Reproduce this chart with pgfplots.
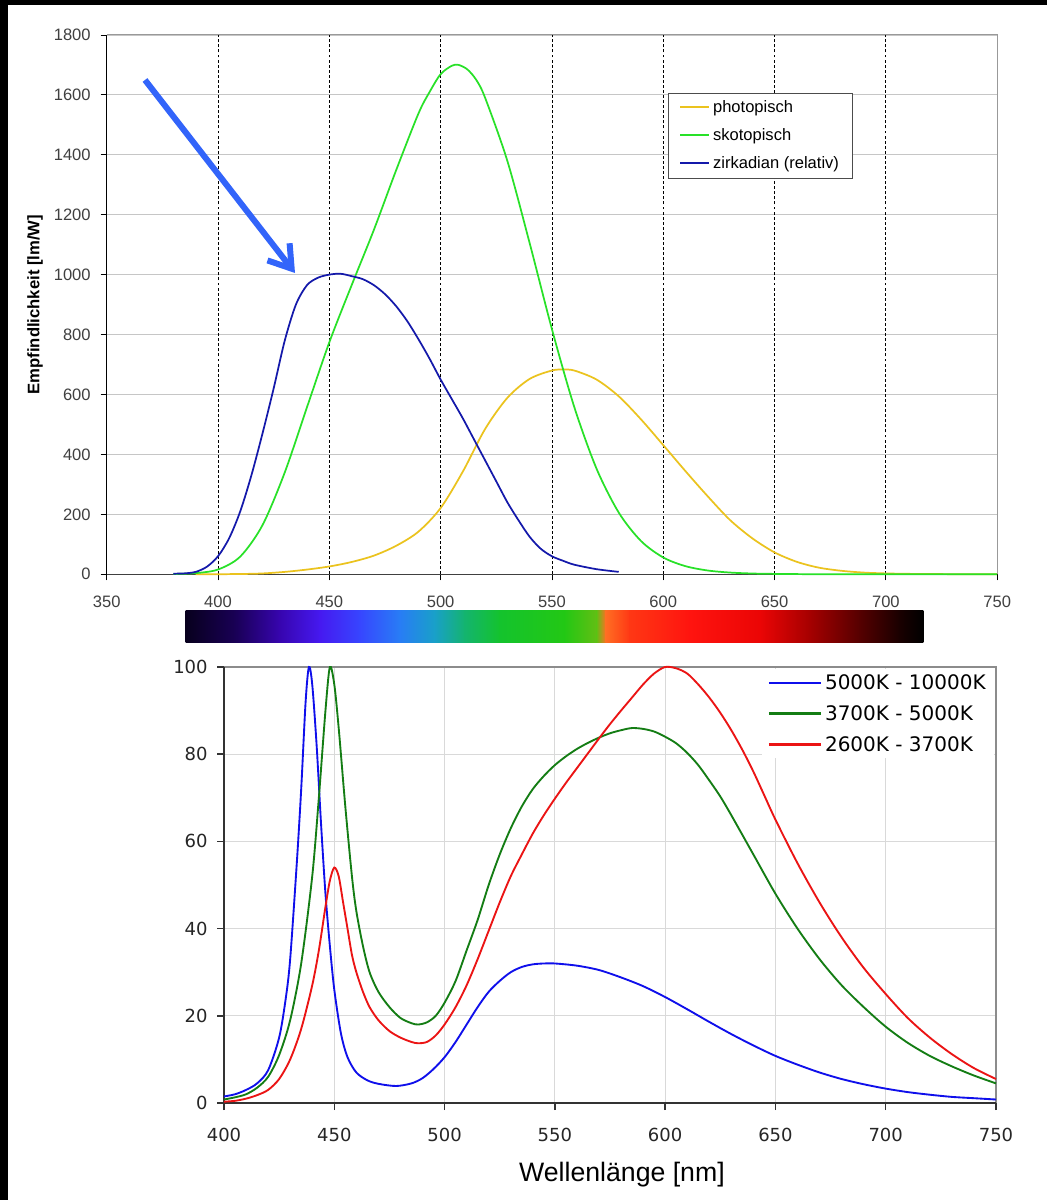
\documentclass[border=0pt]{standalone}
\usepackage{fontspec}
\setmainfont{Liberation Sans}
\newfontfamily\verdana{DejaVu Sans}
\usepackage{pgfplots}
\pgfplotsset{compat=1.18}
\usetikzlibrary{arrows.meta}

\definecolor{photo}{RGB}{235,195,30}
\definecolor{skoto}{RGB}{40,225,40}
\definecolor{zirk}{RGB}{20,25,170}
\definecolor{arrowblue}{RGB}{50,100,250}
\definecolor{ledblue}{RGB}{15,15,235}
\definecolor{ledgreen}{RGB}{20,125,20}
\definecolor{ledred}{RGB}{235,20,20}

% spectrum bar colours
\definecolor{s1}{RGB}{8,0,30}
\definecolor{s2}{RGB}{25,0,85}
\definecolor{s3}{RGB}{55,5,175}
\definecolor{s4}{RGB}{70,25,240}
\definecolor{s5}{RGB}{55,70,255}
\definecolor{s6}{RGB}{40,125,245}
\definecolor{s7}{RGB}{25,160,200}
\definecolor{s8}{RGB}{20,180,110}
\definecolor{s9}{RGB}{20,195,45}
\definecolor{s10}{RGB}{35,200,20}
\definecolor{s11}{RGB}{100,190,20}
\definecolor{s12}{RGB}{255,110,35}
\definecolor{s13}{RGB}{255,55,20}
\definecolor{s14}{RGB}{255,20,15}
\definecolor{s15}{RGB}{235,5,5}
\definecolor{s16}{RGB}{165,0,0}
\definecolor{s17}{RGB}{85,0,0}
\definecolor{s18}{RGB}{25,0,0}
\definecolor{s19}{RGB}{0,0,0}
\newcommand\seg[4]{\shade[left color=#3, right color=#4] (#1*0.75pt-0.2pt,417.75pt) rectangle (#2*0.75pt+0.2pt,441.75pt);}

\begin{document}
\begin{tikzpicture}
\path[use as bounding box] (0,0) rectangle (785.25pt,900pt);
\fill[black] (0,0) rectangle (785.25pt,900pt);
\fill[white] (6pt,0) rectangle (785.25pt,896.25pt);

% ---------- top: sensitivity curves ----------
\begin{axis}[
  at={(80pt,469.3pt)}, anchor=south west,
  scale only axis, width=667.9pt, height=404.5pt,
  xmin=350, xmax=750, ymin=0, ymax=1800,
  xtick={350,400,...,750}, ytick={0,200,...,1800},
  clip=false,
  axis line style={draw=none},
  xtick pos=left, ytick pos=left,
  tick align=outside, major tick length=4.5pt,
  tick style={black, line width=0.6pt},
  ymajorgrids, grid style={gray!45, line width=0.6pt},
  tick label style={font=\fontsize{12.4}{14}\selectfont, text=black!75,
    /pgf/number format/assume math mode=true, /pgf/number format/1000 sep={}},
  yticklabel style={xshift=-4pt},
  xticklabel style={yshift=-8pt},
  ylabel={Empfindlichkeit [lm/W]},
  ylabel style={font=\bfseries\fontsize{12.5}{14}\selectfont,
    at={(axis description cs:-0.0805,0.5)}, anchor=center},
  legend style={at={(rel axis cs:0.630,0.8925)}, anchor=north west,
    draw=black!70, line width=0.6pt, fill=white,
    font=\fontsize{12.4}{14}\selectfont, row sep=6.6pt, inner xsep=8.25pt, inner ysep=3.5pt},
  legend cell align=left,
  legend image code/.code={\draw[#1, line width=1.5pt] (0pt,0.5pt) -- (22pt,0.5pt);},
]
\draw[black, dash pattern=on 2.2pt off 1.6pt, line width=0.6pt] (axis cs:400,0) -- (axis cs:400,1800);
\draw[black, dash pattern=on 2.2pt off 1.6pt, line width=0.6pt] (axis cs:450,0) -- (axis cs:450,1800);
\draw[black, dash pattern=on 2.2pt off 1.6pt, line width=0.6pt] (axis cs:500,0) -- (axis cs:500,1800);
\draw[black, dash pattern=on 2.2pt off 1.6pt, line width=0.6pt] (axis cs:550,0) -- (axis cs:550,1800);
\draw[black, dash pattern=on 2.2pt off 1.6pt, line width=0.6pt] (axis cs:600,0) -- (axis cs:600,1800);
\draw[black, dash pattern=on 2.2pt off 1.6pt, line width=0.6pt] (axis cs:650,0) -- (axis cs:650,1800);
\draw[black, dash pattern=on 2.2pt off 1.6pt, line width=0.6pt] (axis cs:700,0) -- (axis cs:700,1800);
\draw[gray!80, line width=0.8pt] (rel axis cs:0,1) -- (rel axis cs:1,1) -- (rel axis cs:1,0);
\draw[black!75, line width=1.1pt] (rel axis cs:0,0) -- (rel axis cs:1,0);
\draw[black, line width=0.7pt] (rel axis cs:0,0) -- (rel axis cs:0,1);

\addplot[photo, line width=1.3pt, smooth] coordinates {
 (390,0.08)(400,0.27)(410,0.83)(420,2.7)(430,7.9)(440,15.7)(450,26)(460,40.9)
 (470,62.1)(480,94.9)(490,142)(500,221)(510,343)(520,485)(530,589)(540,652)
 (550,680)(555,683)(560,680)(570,650)(580,594)(590,517)(600,431)(610,344)
 (620,260)(630,181)(640,120)(650,73)(660,41.5)(670,21.9)(680,11.6)(690,5.6)
 (700,2.8)(710,1.4)(720,0.7)(730,0.36)(740,0.17)(750,0.08)};
\addlegendentry{photopisch}
\addplot[skoto, line width=1.3pt, smooth] coordinates {
 (380,1)(390,3.8)(400,15.8)(410,59)(420,164)(430,340)(440,558)(450,774)
 (460,964)(470,1149)(480,1348)(490,1537)(495,1609)(500,1669)(505,1697)(508,1700)
 (512,1685)(516,1650)(520,1590)(530,1379)(540,1105)(550,818)(560,559)(570,353)(580,206)
 (590,111)(600,56)(610,27)(620,12.5)(630,5.7)(640,2.5)(650,1.2)(660,0.5)
 (680,0.1)(700,0)(750,0)};
\addlegendentry{skotopisch}
\addplot[zirk, line width=1.3pt, smooth] coordinates {
 (380,2)(385,3)(390,8)(395,25)(400,60)(405,120)(410,210)(415,330)(420,470)
 (425,620)(430,780)(435,900)(440,965)(445,990)(450,1000)(455,1003)(460,995)
 (465,985)(470,965)(475,935)(480,895)(485,845)(490,785)(495,720)(500,650)
 (505,585)(510,520)(515,450)(520,380)(525,310)(530,240)(535,180)(540,125)
 (545,85)(550,60)(555,45)(560,32)(570,17)(580,8)};
\addlegendentry{zirkadian (relativ)}
\end{axis}

% arrow
\draw[arrowblue, line width=4.5pt, -{Straight Barb[length=16pt, width=21pt]}]
  (108.75pt,840pt) -- (221.25pt,695.25pt);

% spectrum bar
\seg{186}{235}{s1}{s2}
\seg{235}{280}{s2}{s3}
\seg{280}{320}{s3}{s4}
\seg{320}{360}{s4}{s5}
\seg{360}{400}{s5}{s6}
\seg{400}{435}{s6}{s7}
\seg{435}{465}{s7}{s8}
\seg{465}{500}{s8}{s9}
\seg{500}{565}{s9}{s10}
\seg{565}{597}{s10}{s11}
\seg{597}{606}{s11}{s12}
\seg{606}{630}{s12}{s13}
\seg{630}{690}{s13}{s14}
\seg{690}{760}{s14}{s15}
\seg{760}{810}{s15}{s16}
\seg{810}{860}{s16}{s17}
\seg{860}{900}{s17}{s18}
\seg{900}{923}{s18}{s19}

% ---------- bottom: LED spectra ----------
\begin{axis}[
  at={(168pt,72.75pt)}, anchor=south west,
  scale only axis, width=579pt, height=327pt,
  xmin=400, xmax=750, ymin=0, ymax=100,
  xtick={400,450,...,750}, ytick={0,20,...,100},
  clip=false,
  axis line style={draw=none},
  xtick pos=left, ytick pos=left,
  tick align=outside, major tick length=5.25pt,
  tick style={black!80, line width=1.1pt},
  grid=major, grid style={gray!30, line width=0.8pt},
  tick label style={font=\verdana\fontsize{13.5}{16}\selectfont, text=black!85,
    /pgf/number format/assume math mode=true},
  yticklabel style={xshift=-3.5pt},
  xticklabel style={yshift=-10pt},
  xlabel={Wellenlänge [nm]},
  xlabel style={font=\fontsize{20}{24}\selectfont,
    at={(axis description cs:0.5155,-0.165)}, anchor=center},
  legend style={at={(rel axis cs:1,1)}, xshift=-1.5pt, yshift=-1.5pt, anchor=north east,
    draw=none, fill=white, font=\verdana\fontsize{15}{18}\selectfont,
    row sep=6.5pt, inner xsep=4pt, inner ysep=2pt},
  legend cell align=left,
  legend image code/.code={\draw[#1, line width=2.2pt] (0pt,0pt) -- (39pt,0pt);},
]
\draw[gray!90, line width=1.6pt] (rel axis cs:0,1) -- (rel axis cs:1,1) -- (rel axis cs:1,0);
\draw[black!80, line width=1.5pt] (rel axis cs:0,1) -- (rel axis cs:0,0) -- (rel axis cs:1,0);

\addplot[ledblue, line width=1.4pt, smooth] coordinates {
 (400,1.5)(405,2)(410,3)(415,4.5)(420,7.5)(425,15)(428,24)(430,33)(433,55)
 (435,72)(437,92)(438.5,100)(440,96)(442,82)(444,64)(446,48)(448,36)(450,26)
 (453,16)(456,10.5)(460,7)(465,5.2)(470,4.4)(478,3.9)(485,4.5)(490,5.7)
 (495,7.8)(500,10.5)(505,14)(510,18)(515,22)(520,25.5)(525,28)(530,30)
 (535,31.2)(540,31.8)(545,32)(550,32)(560,31.5)(570,30.5)(580,28.8)(590,26.8)
 (600,24.3)(610,21.5)(620,18.6)(630,15.8)(640,13.2)(650,10.8)(660,8.8)
 (670,7)(680,5.5)(690,4.3)(700,3.3)(710,2.5)(720,1.9)(730,1.4)(740,1.1)(750,0.8)};
\addlegendentry{5000K - 10000K}
\addplot[ledgreen, line width=1.4pt, smooth] coordinates {
 (400,0.8)(405,1.3)(410,2)(415,3.5)(420,6)(425,11)(430,19)(435,32)(440,52)
 (443,70)(446,90)(448,100)(450,96)(452,86)(455,68)(458,52)(460,44)(463,36)
 (466,30)(470,25.5)(475,22)(480,19.5)(485,18.3)(488,18)(492,18.5)(496,20)
 (500,23)(505,28)(510,35)(515,42)(520,50)(525,57)(530,63)(535,68)(540,72)
 (545,75)(550,77.5)(555,79.5)(560,81.2)(565,82.6)(570,83.8)(575,84.8)
 (580,85.5)(585,86)(590,85.8)(595,85.2)(600,84)(605,82.5)(610,80.3)
 (615,77.5)(620,74)(625,70.3)(630,66)(640,57)(650,48)(660,40)(670,33)
 (680,27)(690,22)(700,17.5)(710,13.8)(720,10.8)(730,8.4)(740,6.3)(750,4.5)};
\addlegendentry{3700K - 5000K}
\addplot[ledred, line width=1.4pt, smooth] coordinates {
 (400,0.3)(405,0.5)(410,1)(415,1.8)(420,3)(425,5.5)(430,10)(435,17)(440,27)
 (443,35)(446,45)(448,51)(450,54)(452,52)(454,46)(456,40)(458,34)(460,30)
 (463,25.5)(466,22)(470,19)(475,16.5)(480,15)(485,14)(488,13.7)(492,14)
 (496,15.5)(500,18)(505,22)(510,27)(515,33)(520,39.5)(525,46)(530,52)
 (535,57)(540,61.8)(545,66)(550,69.8)(555,73.4)(560,76.8)(565,80.2)(570,83.6)
 (575,86.9)(580,90)(585,93)(590,96)(595,98.5)(600,100)(605,99.7)(610,98.5)
 (615,96)(620,93)(625,89.5)(630,85.5)(635,81)(640,76)(645,70.5)(650,65)
 (660,55)(670,46)(680,38)(690,31)(700,25)(710,19.5)(720,15)(730,11.2)
 (740,8)(750,5.5)};
\addlegendentry{2600K - 3700K}
\end{axis}
\end{tikzpicture}
\end{document}
